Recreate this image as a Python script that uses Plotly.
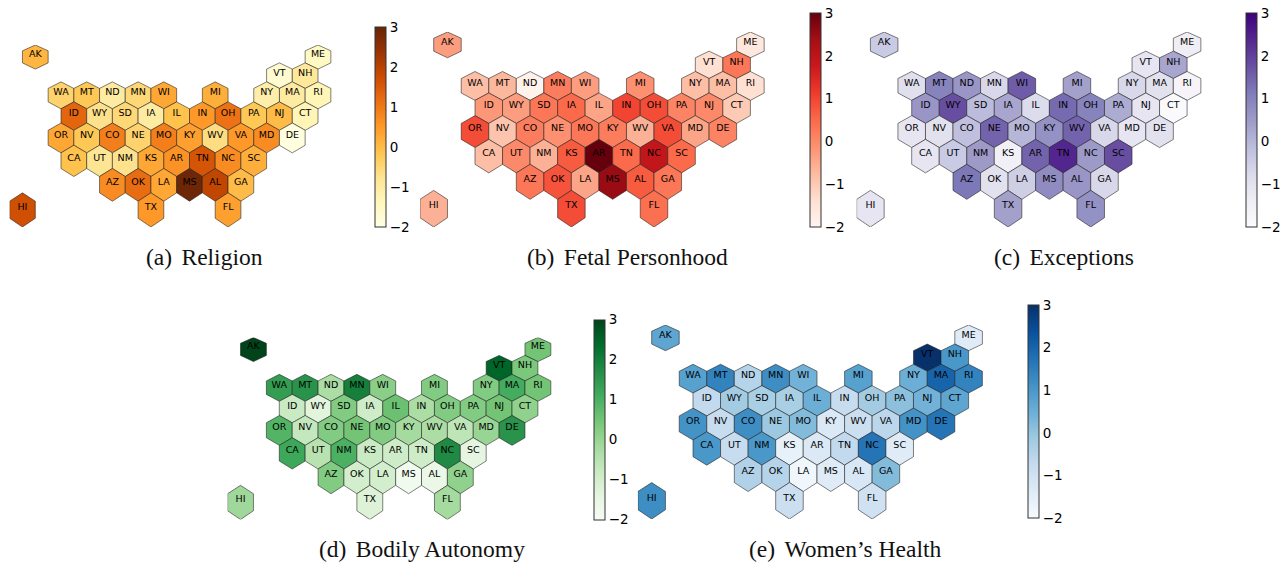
import plotly.graph_objects as go
from plotly.colors import sample_colorscale, make_colorscale, sequential

STATES = ["AK","ME","VT","NH","WA","MT","ND","MN","WI","MI","NY","MA","RI",
          "ID","WY","SD","IA","IL","IN","OH","PA","NJ","CT",
          "OR","NV","CO","NE","MO","KY","WV","VA","MD","DE",
          "CA","UT","NM","KS","AR","TN","NC","SC",
          "AZ","OK","LA","MS","AL","GA","TX","FL","HI"]
GRID_COL = [-2,20,17,19,0,2,4,6,8,12,16,18,20,
            1,3,5,7,9,11,13,15,17,19,
            0,2,4,6,8,10,12,14,16,18,
            1,3,5,7,9,11,13,15,
            4,6,8,10,12,14,7,13,-3]
GRID_ROW = [0,0,1,1,2,2,2,2,2,2,2,2,2,
            3,3,3,3,3,3,3,3,3,3,
            4,4,4,4,4,4,4,4,4,4,
            5,5,5,5,5,5,5,5,
            6,6,6,6,6,6,7,7,7]

RELIGION = [0.1,-1.5,-1.7,-0.9,-0.4,-0.2,-1.0,-0.5,0.3,0.2,-1.1,-1.0,-1.3,
            1.3,-0.7,-0.5,-1.0,-0.1,0.5,1.1,-0.2,0.0,-1.3,
            0.3,-0.2,0.9,-0.4,0.9,0.4,-0.6,0.5,0.7,-1.9,
            -0.1,-0.8,-0.7,0.3,0.6,1.6,0.7,0.2,
            0.7,1.2,0.3,2.9,1.9,0.0,0.5,0.4,1.7]
FETAL = [-0.3,-1.6,-1.4,0.3,-0.8,-0.7,-1.9,0.2,-0.3,-0.1,-0.8,-0.8,-1.4,
         -0.2,-0.3,0.3,0.5,-0.4,1.0,0.9,0.1,0.0,-1.0,
         0.9,-0.9,0.2,-0.1,0.3,0.2,-0.6,0.9,-0.4,0.1,
         -0.8,0.0,-0.6,0.7,3.0,0.5,1.9,0.5,
         0.3,0.8,-0.4,2.5,0.7,0.3,0.9,0.4,-0.6]
EXCEPTIONS = [-0.4,-1.4,-1.1,0.3,-0.9,1.0,0.6,-0.7,1.6,0.4,-0.7,-1.0,-1.7,
              0.6,1.8,-0.1,0.3,-0.8,1.4,1.0,0.2,-1.1,-1.9,
              -1.1,-1.0,-0.2,1.5,0.0,0.7,1.5,-0.7,-1.1,-1.0,
              -1.1,-0.4,0.5,-1.5,1.5,2.4,0.5,1.8,
              1.2,-1.0,-0.5,0.8,0.6,-0.7,0.4,0.7,-1.1]
BODILY = [3.0,0.5,2.5,0.4,1.4,1.6,-0.3,2.0,0.2,0.3,0.3,1.1,0.5,
          -0.8,-1.3,0.3,-0.9,0.6,-0.3,0.3,0.3,0.5,0.1,
          0.9,-0.7,0.3,0.5,0.3,-0.2,-0.3,-0.6,0.0,1.6,
          1.2,-0.5,1.0,-0.8,-0.9,-0.9,1.8,-1.4,
          0.3,-1.0,-1.0,-1.8,-1.6,0.1,-1.2,-0.2,-0.1]
WOMENS = [0.7,-1.4,3.0,1.0,0.8,1.4,-0.5,1.2,0.4,0.8,0.5,2.0,1.4,
          -0.7,-0.2,-0.3,-0.3,0.5,-0.8,-0.2,0.1,0.4,0.7,
          1.1,-0.8,1.2,-0.1,0.2,-1.3,-0.9,-0.6,1.1,1.7,
          1.0,-0.8,1.0,-1.6,-1.3,-0.7,1.7,-1.4,
          -0.4,-0.5,-1.8,-1.4,-1.2,0.2,-0.9,-1.0,1.2]

TICKS = [-2,-1,0,1,2,3]
CAPTIONS = ["(a)\u2009\u2009Religion","(b)\u2009\u2009Fetal Personhood","(c)\u2009\u2009Exceptions",
            "(d)\u2009\u2009Bodily Autonomy","(e)\u2009\u2009Women\u2019s Health"]
W, H = 1286, 563
VMIN, VMAX = -2, 3
# vals, palette, col-0 px, half-step px, top px, bottom px, cbar left px, cbar width, cbar top, cbar bottom, caption x, caption y
PANELS = [
    (RELIGION,  sequential.YlOrBr, 61.0, 12.85, 45, 227, 375, 10.5, 27, 227, 204, 257),
    (FETAL,     sequential.Reds,  475.0, 13.77, 32, 227, 809.5, 11, 13, 227, 627, 257),
    (EXCEPTIONS,sequential.Purples,911.7,13.77, 32, 227, 1246, 11, 13, 227, 1064, 257),
    (BODILY,    sequential.Greens,279.3, 12.93, 337.5, 519.5, 593.5, 10.5, 319.5, 519.5, 422, 549),
    (WOMENS,    sequential.Blues, 693.0, 13.78, 325, 519, 1028, 11, 305, 518, 845, 549),
]
TOTAL_LEVELS = 12.5

def warp(v):
    # the map's projection stretches rows towards the south
    return 11.5 * v + 0.238 * v * v

def hex_outline(col, row):
    top = 1.5 * row
    xs = [col, col + 1, col + 1, col, col - 1, col - 1, col]
    ls = [top, top + 0.5, top + 1.5, top + 2, top + 1.5, top + 0.5, top]
    return xs, [warp(l) for l in ls]

fig = go.Figure()
layout = dict(width=W, height=H, margin=dict(l=0, r=0, t=0, b=0), paper_bgcolor="white",
              plot_bgcolor="rgba(0,0,0,0)", showlegend=False, annotations=[])

for i, (vals, pal, ox, h, top, bot, cbx, cbw, cbt, cbb, capx, capy) in enumerate(PANELS):
    s = "" if i == 0 else str(i + 1)
    xa, ya, ca = "x" + s, "y" + s, "coloraxis" + s
    scale = make_colorscale(pal)
    layout["xaxis" + s] = dict(domain=[(ox - 4 * h) / W, (ox + 22 * h) / W], range=[-4, 22],
                               visible=False, fixedrange=True)
    layout["yaxis" + s] = dict(domain=[1 - bot / H, 1 - top / H],
                               range=[warp(TOTAL_LEVELS), 0], visible=False, fixedrange=True)
    layout[ca] = dict(cmin=VMIN, cmax=VMAX, colorscale=scale, colorbar=dict(
        x=cbx / W, xanchor="left", xpad=0, y=1 - cbt / H, yanchor="top", ypad=0,
        len=cbb - cbt, lenmode="pixels", thickness=cbw, thicknessmode="pixels",
        outlinecolor="#333333", outlinewidth=1, tickmode="array", tickvals=TICKS,
        ticks="", tickfont=dict(family="DejaVu Sans", size=13.5, color="#000000")))
    cx = GRID_COL
    cy = [warp(1.5 * r + 1) for r in GRID_ROW]
    fig.add_trace(go.Scatter(x=cx, y=cy, mode="markers", xaxis=xa, yaxis=ya, hoverinfo="skip",
                             marker=dict(size=1, color=vals, coloraxis=ca)))
    for st, c, r, v in zip(STATES, GRID_COL, GRID_ROW, vals):
        xs, ys = hex_outline(c, r)
        colour = sample_colorscale(scale, (v - VMIN) / (VMAX - VMIN))[0]
        fig.add_trace(go.Scatter(x=xs, y=ys, mode="lines", fill="toself", fillcolor=colour,
                                 line=dict(color="rgba(30,30,30,0.8)", width=0.7),
                                 xaxis=xa, yaxis=ya, name=st, hoverinfo="name"))
    label_y = [warp(1.5 * r + 1) - 2.2 for r in GRID_ROW]
    fig.add_trace(go.Scatter(x=cx, y=label_y, mode="text", text=STATES, xaxis=xa, yaxis=ya,
                             textposition="middle center", hoverinfo="skip",
                             textfont=dict(family="DejaVu Sans", size=9.5, color="#000000")))
    layout["annotations"].append(dict(
        text=CAPTIONS[i], x=capx / W, y=1 - capy / H, xref="paper", yref="paper",
        xanchor="center", yanchor="middle", showarrow=False,
        font=dict(family="Liberation Serif", size=23.5, color="#111111")))

fig.update_layout(**layout)
fig.write_html("out.html", config={"displayModeBar": False},
               post_script="document.body.style.margin='0';")
